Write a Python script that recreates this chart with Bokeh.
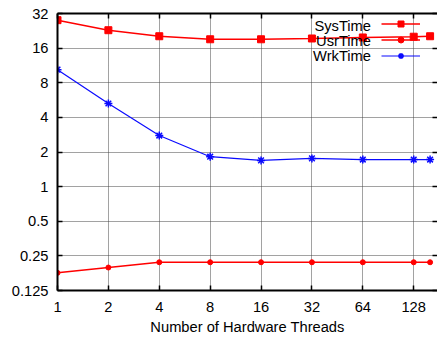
from bokeh.plotting import figure
from bokeh.models import (LogAxis, FixedTicker, Legend, LegendItem, Label, Range1d, CustomLabelingPolicy)
from bokeh.core.properties import value
from bokeh.embed import file_html
from bokeh.resources import INLINE

threads = [1, 2, 4, 8, 16, 32, 64, 128, 160]
sys_time = [28.0, 22.9, 20.3, 19.1, 19.1, 19.4, 19.8, 20.1, 20.3]
usr_time = [0.178, 0.198, 0.22, 0.22, 0.22, 0.22, 0.22, 0.22, 0.22]
wrk_time = [10.4, 5.28, 2.78, 1.82, 1.69, 1.76, 1.72, 1.72, 1.72]

series_names = ["SysTime", "UsrTime", "WrkTime"]
x_ticks = [1, 2, 4, 8, 16, 32, 64, 128]
x_tick_labels = ["1", "2", "4", "8", "16", "32", "64", "128"]
y_ticks = [0.125, 0.25, 0.5, 1, 2, 4, 8, 16, 32]
y_tick_labels = ["0.125", "0.25", "0.5", "1", "2", "4", "8", "16", "32"]
x_title = "Number of Hardware Threads"

FONT = "Liberation Sans"
FS = "14.7px"

p = figure(width=437, height=341, x_axis_type="log", y_axis_type="log",
           x_range=Range1d(1, 177), y_range=Range1d(0.125, 32),
           output_backend="svg", toolbar_location=None,
           min_border_left=57, min_border_right=0, min_border_top=13, min_border_bottom=51)
p.outline_line_color = None
p.background_fill_color = "white"
p.border_fill_color = "white"

bottom_ax = p.xaxis[0]
left_ax = p.yaxis[0]

# mirrored axes (ticks only, no labels)
top_ax = LogAxis()
right_ax = LogAxis()
p.add_layout(top_ax, "above")
p.add_layout(right_ax, "right")

xt = FixedTicker(ticks=x_ticks, minor_ticks=[])
yt = FixedTicker(ticks=y_ticks, minor_ticks=[])
for ax in [bottom_ax, top_ax]:
    ax.ticker = xt
for ax in [left_ax, right_ax]:
    ax.ticker = yt
p.xgrid.ticker = xt
p.ygrid.ticker = yt

bottom_ax.major_label_overrides = dict(zip(x_ticks, x_tick_labels))
left_ax.major_label_overrides = dict(zip(y_ticks, y_tick_labels))

for ax in [bottom_ax, left_ax, top_ax, right_ax]:
    ax.major_tick_in = 5
    ax.major_tick_out = 0
    ax.minor_tick_in = 0
    ax.minor_tick_out = 0
    ax.major_tick_line_color = "black"
    ax.major_tick_line_width = 1.5
    ax.axis_line_color = "black"
    ax.axis_line_width = 2
    ax.major_label_text_font = FONT
    ax.major_label_text_font_size = FS
    ax.major_label_text_color = "black"

no_labels = CustomLabelingPolicy(code="""
for (const i of Array.from(indices)) { indices.unset(i) }
return indices
""")
for ax in [top_ax, right_ax]:
    ax.major_label_policy = no_labels
    ax.major_label_text_font_size = "0px"
    ax.major_label_standoff = 0
right_ax.axis_line_color = None

bottom_ax.major_label_standoff = 11
left_ax.major_label_standoff = 9
bottom_ax.axis_label = x_title
bottom_ax.axis_label_text_font = FONT
bottom_ax.axis_label_text_font_size = FS
bottom_ax.axis_label_text_font_style = "normal"
bottom_ax.axis_label_text_color = "black"
bottom_ax.axis_label_standoff = 4

for g in [p.xgrid[0], p.ygrid[0]]:
    g.grid_line_color = "#444444"
    g.grid_line_dash = "1 1"
    g.grid_line_width = 1

red = "#ff0000"
blue = "#0a0aff"
l1 = p.line(threads, sys_time, line_color=red, line_width=1.5)
s1 = p.scatter(threads, sys_time, marker="square", size=7, color=red)
l2 = p.line(threads, usr_time, line_color=red, line_width=1.5)
s2 = p.scatter(threads, usr_time, marker="circle", size=5, color=red)
l3 = p.line(threads, wrk_time, line_color=blue, line_width=1.2)
s3 = p.scatter(threads, wrk_time, marker="asterisk", size=8, line_color=blue, line_width=1.5)

# legend keys (glyph samples) on the right, names drawn as labels to their left
items = [LegendItem(label=value("\u00a0"), renderers=[l, s])
         for l, s in [(l1, s1), (l2, s2), (l3, s3)]]
legend = Legend(items=items, location=(324, 227), orientation="vertical",
                glyph_width=39, glyph_height=15, label_width=0, label_height=15,
                label_standoff=0, padding=0, margin=0, spacing=0,
                label_text_font=FONT, label_text_font_size=FS,
                border_line_color=None, background_fill_alpha=0)
p.add_layout(legend)

for i, name in enumerate(series_names):
    p.add_layout(Label(x=313.5, y=265 - 15 * i, x_units="screen", y_units="screen",
                       text=name, text_align="right", text_baseline="middle",
                       text_font=FONT, text_font_size=FS, text_color="black"))

open("out.html", "w").write(file_html(p, INLINE))
